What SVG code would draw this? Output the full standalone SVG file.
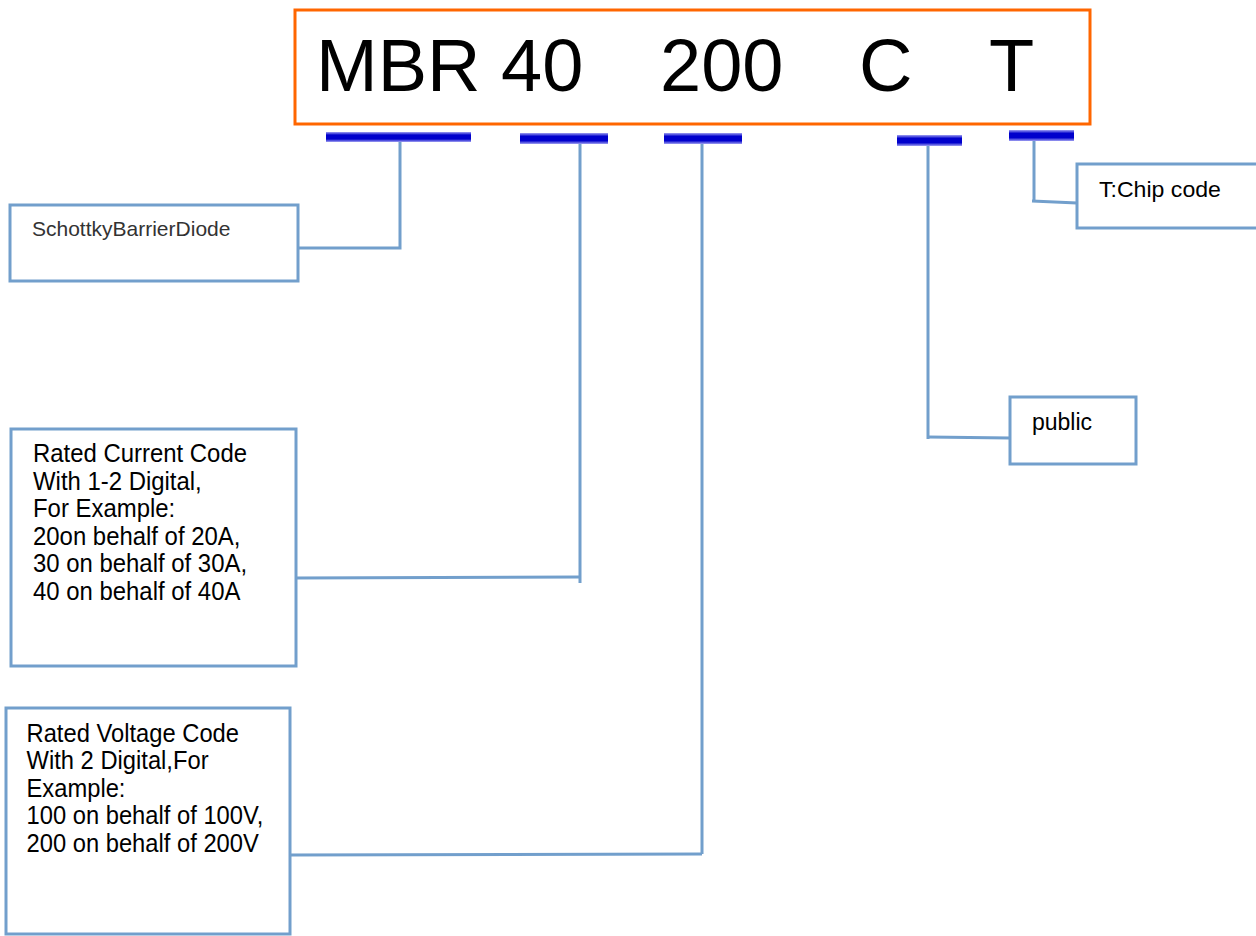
<svg xmlns="http://www.w3.org/2000/svg" width="1256" height="936" viewBox="0 0 1256 936">
<defs>
<linearGradient id="barg" x1="0" y1="0" x2="0" y2="1">
<stop offset="0" stop-color="#a0a0f2"/>
<stop offset="0.3" stop-color="#0000cc"/>
<stop offset="0.7" stop-color="#0000cc"/>
<stop offset="1" stop-color="#a0a0f2"/>
</linearGradient>
</defs>
<style>
.box{fill:#fff;stroke:#729fcc;stroke-width:3}
.con{fill:none;stroke:#729fcc;stroke-width:3}
.bar{fill:url(#barg)}
.t{font-family:"Liberation Sans",Arial,sans-serif;font-size:22px;fill:#000}
.tl{font-family:"Liberation Sans",Arial,sans-serif;font-size:25px;fill:#000}
.big{font-family:"Liberation Sans",Arial,sans-serif;font-size:74px;fill:#000}
</style>
<rect width="1256" height="936" fill="#fff"/>
<g id="title">
<rect x="295" y="10" width="795" height="114" fill="#fff" stroke="#ff6600" stroke-width="3"/>
<text class="big" x="316" y="91">MBR 40</text>
<text class="big" x="660" y="91">200</text>
<text class="big" x="859" y="91">C</text>
<text class="big" x="989" y="91">T</text>
</g>
<g id="bars">
<rect class="bar" x="326" y="132" width="145" height="10"/>
<rect class="bar" x="520" y="133" width="88" height="11"/>
<rect class="bar" x="664" y="133" width="78" height="11"/>
<rect class="bar" x="897" y="135" width="65" height="11"/>
<rect class="bar" x="1009" y="130" width="65" height="11"/>
</g>
<g id="connectors">
<polyline class="con" points="400,142 400,248 298,248"/>
<polyline class="con" points="580,144 580,583"/>
<polyline class="con" points="296,578 580,577"/>
<polyline class="con" points="702,144 702,854"/>
<polyline class="con" points="290,855 702,854"/>
<polyline class="con" points="928,146 928,439"/>
<polyline class="con" points="928,437 1010,438"/>
<polyline class="con" points="1034,141 1034,202"/>
<polyline class="con" points="1032,201 1077,203"/>
</g>
<g id="node-sbd">
<rect class="box" x="10" y="205" width="288" height="76"/>
<text class="t" x="32" y="236" style="font-size:21px;fill:#333">SchottkyBarrierDiode</text>
</g>
<g id="node-current">
<rect class="box" x="11" y="429" width="285" height="237"/>
<g transform="translate(33,0) scale(0.957,1)">
<text class="tl" x="0" y="462">Rated Current Code</text>
<text class="tl" x="0" y="489.6">With 1-2 Digital,</text>
<text class="tl" x="0" y="517.2">For Example:</text>
<text class="tl" x="0" y="544.8">20on behalf of 20A,</text>
<text class="tl" x="0" y="572.4">30 on behalf of 30A,</text>
<text class="tl" x="0" y="600">40 on behalf of 40A</text>
</g>
</g>
<g id="node-voltage">
<rect class="box" x="6" y="708" width="284" height="226"/>
<g transform="translate(26.5,0) scale(0.95,1)">
<text class="tl" x="0" y="742">Rated Voltage Code</text>
<text class="tl" x="0" y="769.5">With 2 Digital,For</text>
<text class="tl" x="0" y="797">Example:</text>
<text class="tl" x="0" y="824.5">100 on behalf of 100V,</text>
<text class="tl" x="0" y="852">200 on behalf of 200V</text>
</g>
</g>
<g id="node-public">
<rect class="box" x="1010" y="397" width="126" height="67"/>
<text class="t" x="1032" y="430" style="font-size:23px">public</text>
</g>
<g id="node-chip">
<rect class="box" x="1077" y="164" width="190" height="64"/>
<text class="t" x="1099" y="197" style="font-size:22px" transform="translate(1099,0) scale(1.05,1) translate(-1099,0)">T:Chip code</text>
</g>
</svg>
